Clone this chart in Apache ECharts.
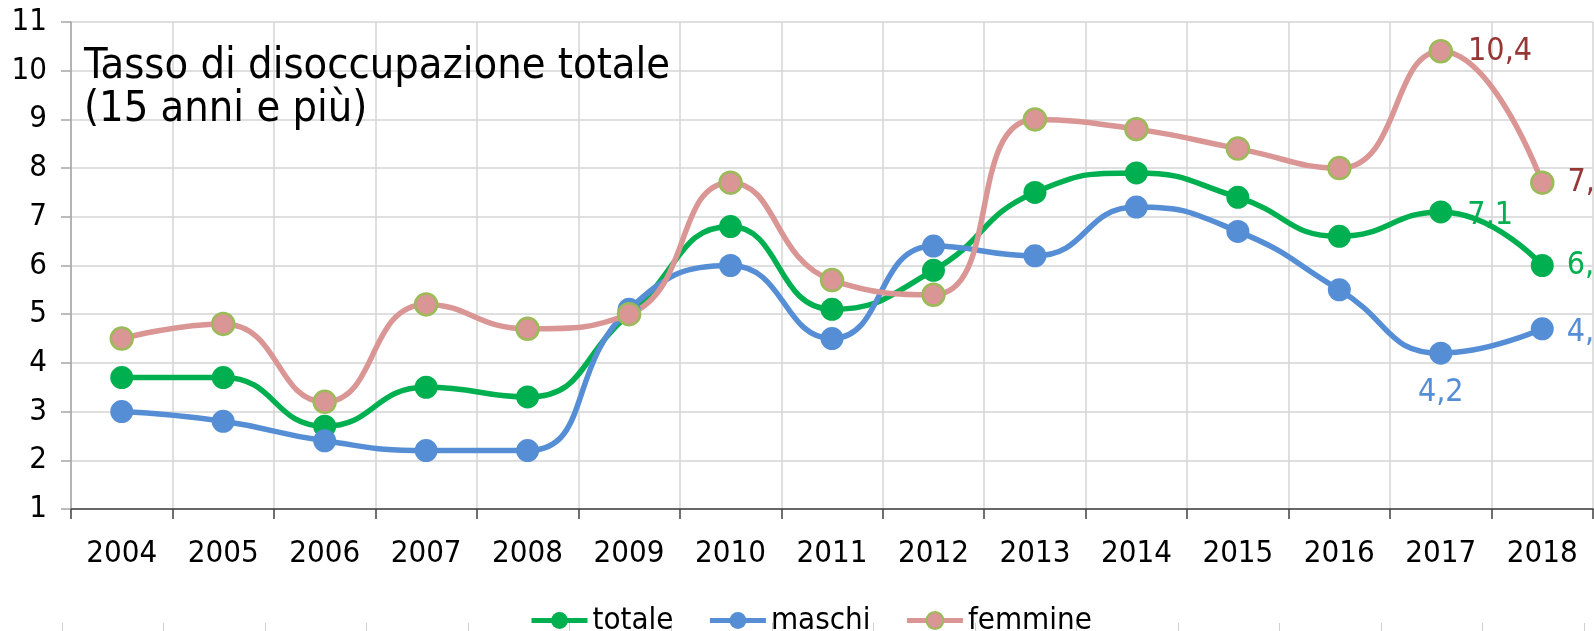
<!DOCTYPE html>
<html lang="it">
<head>
    <meta charset="UTF-8">
    <title>Tasso di disoccupazione totale</title>
    <style>
        html, body { margin: 0; padding: 0; background: #fff; }
        #main { width: 1594px; height: 631px; }
    </style>
</head>
<body>
<div id="main"></div>
<script src="https://cdn.jsdelivr.net/npm/echarts@6/dist/echarts.min.js"></script>
<script>
    var years = ['2004', '2005', '2006', '2007', '2008', '2009', '2010', '2011',
                 '2012', '2013', '2014', '2015', '2016', '2017', '2018'];
    var totale  = [3.7, 3.7, 2.7, 3.5, 3.3, 5.0, 6.8, 5.1, 5.9, 7.5, 7.9, 7.4, 6.6, 7.1, 6.0];
    var maschi  = [3.0, 2.8, 2.4, 2.2, 2.2, 5.1, 6.0, 4.5, 6.4, 6.2, 7.2, 6.7, 5.5, 4.2, 4.7];
    var femmine = [4.5, 4.8, 3.2, 5.2, 4.7, 5.0, 7.7, 5.7, 5.4, 9.0, 8.8, 8.4, 8.0, 10.4, 7.7];

    var FONT = '"DejaVu Sans Condensed", "Liberation Sans Narrow", "Open Sans", sans-serif';

    // only the last two years get a value label, like in the original
    function withLabels(values, color, positions) {
        return values.map(function (v, i) {
            var pos = positions[i];
            if (!pos) return v;
            return {
                value: v,
                label: {
                    show: true,
                    position: pos.position,
                    distance: pos.distance,
                    offset: pos.offset || [0, 0],
                    color: color,
                    fontSize: 32,
                    fontFamily: FONT,
                    formatter: function (p) {
                        return p.value.toFixed(1).replace('.', ',');
                    }
                }
            };
        });
    }

    var myChart = echarts.init(document.getElementById('main'));

    var option = {
        backgroundColor: '#fff',
        animation: false,
        title: {
            text: 'Tasso di disoccupazione totale\n(15 anni e più)',
            left: 84,
            top: 45,
            padding: 0,
            textStyle: {
                fontFamily: FONT,
                fontSize: 43,
                lineHeight: 43,
                fontWeight: 'normal',
                color: '#000'
            }
        },
        legend: {
            data: ['totale', 'maschi', 'femmine'],
            left: 524,
            top: 600,
            itemWidth: 56,
            itemHeight: 21,
            itemGap: 34,
            lineStyle: {width: 5},
            textStyle: {
                fontFamily: FONT,
                fontSize: 31,
                color: '#000'
            }
        },
        grid: [
            {left: 71, right: 1, top: 22, bottom: 122},
            {left: 62, right: 10, top: 622, height: 1}
        ],
        xAxis: [
            {
                type: 'category',
                data: years,
                boundaryGap: true,
                axisLine: {lineStyle: {color: '#404040', width: 1.5}},
                axisTick: {show: true, length: 10, lineStyle: {color: '#404040', width: 1.5}},
                axisLabel: {
                    margin: 29,
                    fontFamily: FONT,
                    fontSize: 31,
                    color: '#000'
                },
                splitLine: {show: true, lineStyle: {color: '#d4d4d4', width: 1.5}}
            },
            {
                gridIndex: 1,
                type: 'category',
                data: years,
                axisLine: {show: false},
                axisTick: {show: true, length: 9, lineStyle: {color: '#cfcfcf'}},
                axisLabel: {show: false},
                splitLine: {show: false}
            }
        ],
        yAxis: [
            {
                type: 'value',
                min: 1,
                max: 11,
                interval: 1,
                axisLine: {show: true, lineStyle: {color: '#a6a6a6', width: 1.5}},
                axisTick: {show: true, length: 10, lineStyle: {color: '#a6a6a6', width: 1.5}},
                axisLabel: {
                    margin: 24,
                    fontFamily: FONT,
                    fontSize: 31,
                    color: '#000'
                },
                splitLine: {show: true, lineStyle: {color: '#d4d4d4', width: 1.5}}
            },
            {
                gridIndex: 1,
                type: 'value',
                show: false
            }
        ],
        series: [
            {
                name: 'totale',
                type: 'line',
                data: withLabels(totale, '#00b050', {
                    13: {position: 'right', distance: 15, offset: [0, 4]},
                    14: {position: 'right', distance: 13}
                }),
                smooth: 0.5,
                symbol: 'circle',
                symbolSize: 23,
                lineStyle: {color: '#00b050', width: 5.5},
                itemStyle: {color: '#00b050'}
            },
            {
                name: 'maschi',
                type: 'line',
                data: withLabels(maschi, '#558ed5', {
                    13: {position: 'bottom', distance: 12},
                    14: {position: 'right', distance: 13, offset: [0, 4]}
                }),
                smooth: 0.5,
                symbol: 'circle',
                symbolSize: 23,
                lineStyle: {color: '#558ed5', width: 5.5},
                itemStyle: {color: '#558ed5'}
            },
            {
                name: 'femmine',
                type: 'line',
                data: withLabels(femmine, '#953735', {
                    13: {position: 'right', distance: 15},
                    14: {position: 'right', distance: 13}
                }),
                smooth: 0.5,
                symbol: 'circle',
                symbolSize: 22,
                lineStyle: {color: '#d99694', width: 5.5},
                itemStyle: {color: '#d99694', borderColor: '#9bbb59', borderWidth: 2.5}
            }
        ]
    };

    myChart.setOption(option);
</script>
</body>
</html>
